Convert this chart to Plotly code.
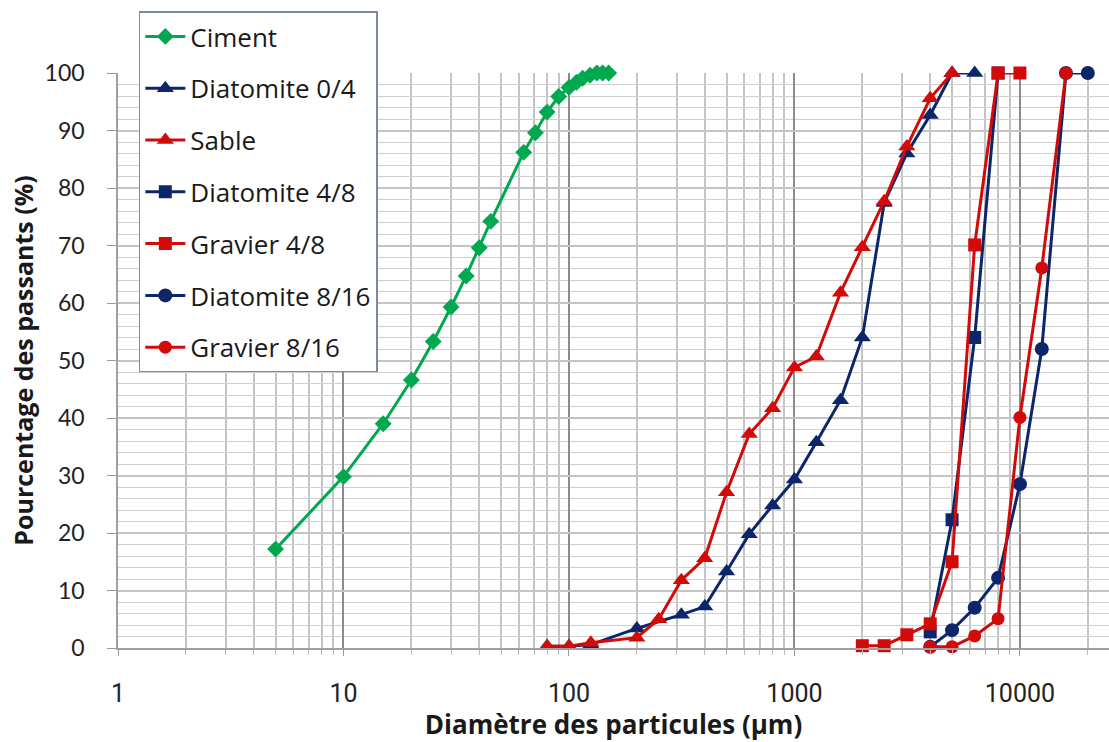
import plotly.graph_objects as go

# ---- data ----
ciment_x = [5, 10, 15, 20, 25, 30, 35, 40, 45, 63, 71, 80, 90, 100, 108, 115, 124, 133, 141, 150]
ciment_y = [17.2, 29.8, 39.0, 46.6, 53.3, 59.3, 64.7, 69.6, 74.2, 86.2, 89.6, 93.2, 95.9, 97.5, 98.4, 99.1, 99.6, 100, 100, 100]

diat04_x = [80, 100, 125, 200, 315, 400, 500, 630, 800, 1000, 1250, 1600, 2000, 2500, 3150, 4000, 5000, 6300]
diat04_y = [0.3, 0.3, 0.6, 3.4, 5.8, 7.2, 13.3, 19.8, 24.8, 29.3, 35.8, 43.1, 54.0, 77.4, 86.0, 92.7, 100, 100]

sable_x = [80, 100, 125, 200, 250, 315, 400, 500, 630, 800, 1000, 1250, 1600, 2000, 2500, 3150, 4000, 5000]
sable_y = [0.3, 0.3, 0.9, 1.8, 5.0, 11.8, 15.6, 27.1, 37.2, 41.7, 48.8, 50.7, 61.8, 69.7, 77.7, 87.2, 95.6, 100]

diat48_x = [4000, 5000, 6300, 8000]
diat48_y = [2.8, 22.3, 54.0, 100]

grav48_x = [2000, 2500, 3150, 4000, 5000, 6300, 8000, 10000]
grav48_y = [0.4, 0.4, 2.3, 4.2, 15.0, 70.1, 100, 100]

diat816_x = [4000, 5000, 6300, 8000, 10000, 12500, 16000, 20000]
diat816_y = [0.2, 3.1, 7.0, 12.2, 28.5, 52.0, 100, 100]

grav816_x = [4000, 5000, 6300, 8000, 10000, 12500, 16000]
grav816_y = [0.2, 0.2, 2.1, 5.1, 40.1, 66.1, 100]

x_tickvals = [1, 10, 100, 1000, 10000]
x_ticktext = ["1", "10", "100", "1000", "10000"]

GREEN = "#00A84F"
NAVY = "#0C2669"
RED = "#D20A0A"

series = [
    ("Ciment", ciment_x, ciment_y, GREEN, "diamond", 13),
    ("Diatomite 0/4", diat04_x, diat04_y, NAVY, "triangle-up", 15),
    ("Sable", sable_x, sable_y, RED, "triangle-up", 15),
    ("Diatomite 4/8", diat48_x, diat48_y, NAVY, "square", 13),
    ("Gravier 4/8", grav48_x, grav48_y, RED, "square", 13),
    ("Diatomite 8/16", diat816_x, diat816_y, NAVY, "circle", 14),
    ("Gravier 8/16", grav816_x, grav816_y, RED, "circle", 13),
]

fig = go.Figure()
for name, xs, ys, col, sym, sz in series:
    fig.add_trace(go.Scatter(
        x=xs, y=ys, name=name, mode="lines+markers",
        legendgroup=name,
        line=dict(color=col, width=3),
        marker=dict(color=col, symbol=sym, size=sz),
        cliponaxis=False,
    ))

TITLE_FONT = "Open Sans, Lato, sans-serif"

fig.update_layout(
    width=1109, height=742,
    margin=dict(l=118, r=0, t=73, b=94),
    paper_bgcolor="white", plot_bgcolor="white",
    showlegend=True,
    legend=dict(
        x=0.021, y=1.107, xanchor="left", yanchor="top",
        bgcolor="white", bordercolor="#7D88A3", borderwidth=1.5,
        font=dict(family="Open Sans, Lato, sans-serif", size=26, color="#1a1a1a"),
        traceorder="grouped", tracegroupgap=15, itemwidth=40,
    ),
    xaxis=dict(
        type="log", range=[0, 4.395],
        tickvals=x_tickvals, ticktext=x_ticktext,
        tickfont=dict(family="Liberation Sans Narrow, Roboto, sans-serif", size=25, color="#222"),
        showgrid=True, gridcolor="#8C8C8C", gridwidth=1.5,
        ticks="outside", ticklen=6, tickcolor="#999",
        ticklabelstandoff=16,
        minor=dict(dtick="D1", showgrid=True, gridcolor="#C4C4C4", gridwidth=1.5,
                   ticks="outside", ticklen=5, tickcolor="#BBB"),
        showline=True, linecolor="#A0A0A0", linewidth=1.5,
        zeroline=False,
        title=dict(text="<b>Diamètre des particules (µm)</b>", standoff=7,
                   font=dict(family=TITLE_FONT, size=26, color="#1a1a1a")),
    ),
    yaxis=dict(
        range=[0, 100], dtick=10,
        tickfont=dict(family="Lato, Open Sans, sans-serif", size=23, color="#222"),
        showgrid=True, gridcolor="#C4C4C4", gridwidth=1.5,
        ticks="outside", ticklen=9, tickcolor="#999",
        ticklabelstandoff=18,
        minor=dict(dtick=2, showgrid=True, gridcolor="#CFCFCF", gridwidth=1.2),
        showline=True, linecolor="#A0A0A0", linewidth=1.5,
        zeroline=False,
        title=dict(text="<b>Pourcentage des passants (%)</b>", standoff=4,
                   font=dict(family=TITLE_FONT, size=25, color="#1a1a1a")),
    ),
)

fig.write_html("out.html")
